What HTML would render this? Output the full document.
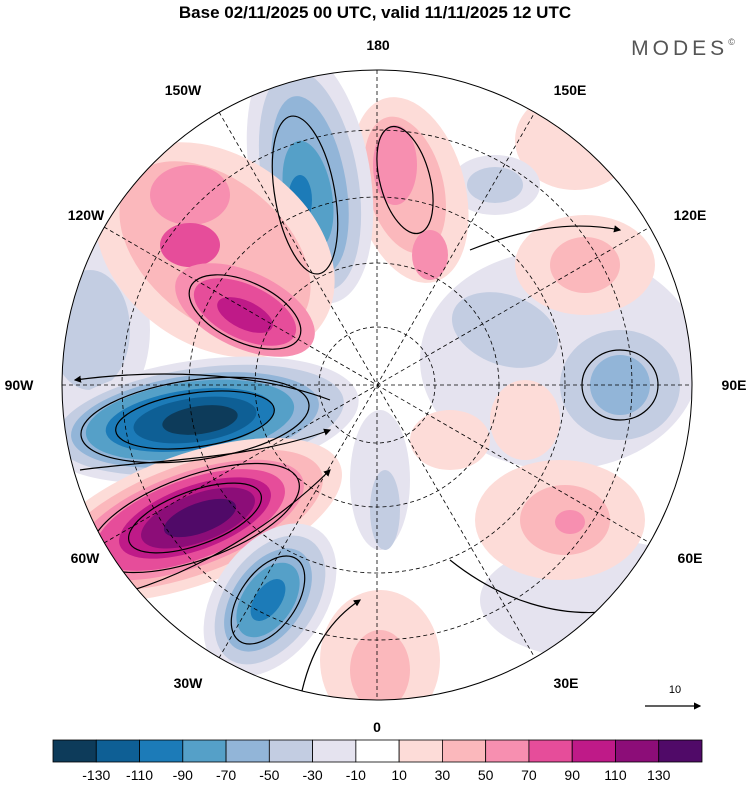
<!DOCTYPE html>
<html><head><meta charset="utf-8"><style>
body{margin:0;background:#fff;width:750px;height:783px;overflow:hidden;font-family:"Liberation Sans",sans-serif}
</style></head><body>
<svg width="750" height="783" viewBox="0 0 750 783">
<defs>
<clipPath id="disk"><circle cx="377" cy="385" r="315"/></clipPath>
<marker id="ah" markerWidth="6" markerHeight="6" refX="5" refY="3" orient="auto"><path d="M0,0L6,3L0,6z" fill="#000"/></marker>
</defs>
<text x="375" y="18" text-anchor="middle" font-size="17" font-weight="bold">Base 02/11/2025 00 UTC, valid 11/11/2025 12 UTC</text>
<text x="685" y="55" text-anchor="middle" font-size="21" fill="#555" letter-spacing="4">MODES<tspan font-size="9" dy="-10">©</tspan></text>
<g clip-path="url(#disk)">
<rect x="60" y="68" width="640" height="640" fill="#fff"/>
<ellipse cx="560" cy="360" rx="140" ry="110" fill="#e5e3ef"/>
<ellipse cx="600" cy="600" rx="120" ry="60" fill="#e5e3ef"/>
<ellipse cx="90" cy="330" rx="60" ry="90" fill="#e5e3ef"/>
<ellipse cx="90" cy="330" rx="40" ry="60" fill="#c3cde2"/>
<ellipse cx="585" cy="265" rx="70" ry="50" fill="#fddcd8"/>
<ellipse cx="585" cy="265" rx="35" ry="28" fill="#fbb8bc"/>
<ellipse cx="560" cy="520" rx="85" ry="60" fill="#fddcd8"/>
<ellipse cx="565" cy="520" rx="45" ry="35" fill="#fbb8bc"/>
<ellipse cx="570" cy="522" rx="15" ry="12" fill="#f78fb0"/>
<ellipse cx="525" cy="420" rx="35" ry="40" fill="#fddcd8"/>
<ellipse cx="450" cy="440" rx="40" ry="30" fill="#fddcd8"/>
<ellipse cx="380" cy="660" rx="60" ry="70" fill="#fddcd8"/>
<ellipse cx="380" cy="670" rx="30" ry="40" fill="#fbb8bc"/>
<ellipse cx="575" cy="140" rx="60" ry="50" fill="#fddcd8"/>
<ellipse cx="620" cy="385" rx="60" ry="55" fill="#c3cde2"/>
<ellipse cx="620" cy="385" rx="30" ry="30" fill="#92b5d8"/>
<ellipse cx="505" cy="330" rx="55" ry="35" fill="#c3cde2" transform="rotate(20 505 330)"/>
<ellipse cx="495" cy="185" rx="45" ry="30" fill="#e5e3ef"/>
<ellipse cx="495" cy="185" rx="28" ry="18" fill="#c3cde2"/>
<ellipse cx="380" cy="480" rx="30" ry="70" fill="#e5e3ef"/>
<ellipse cx="385" cy="510" rx="15" ry="40" fill="#c3cde2"/>
<ellipse cx="410" cy="190" rx="55" ry="95" fill="#fddcd8" transform="rotate(-15 410 190)"/>
<ellipse cx="405" cy="185" rx="38" ry="70" fill="#fbb8bc" transform="rotate(-15 405 185)"/>
<ellipse cx="395" cy="165" rx="22" ry="40" fill="#f78fb0"/>
<ellipse cx="430" cy="255" rx="18" ry="25" fill="#f78fb0"/>
<ellipse cx="310" cy="175" rx="60" ry="130" fill="#e5e3ef" transform="rotate(-10 310 175)"/>
<ellipse cx="310" cy="180" rx="48" ry="112" fill="#c3cde2" transform="rotate(-10 310 180)"/>
<ellipse cx="310" cy="185" rx="36" ry="90" fill="#92b5d8" transform="rotate(-10 310 185)"/>
<ellipse cx="308" cy="195" rx="24" ry="55" fill="#55a0c8" transform="rotate(-10 308 195)"/>
<ellipse cx="300" cy="200" rx="12" ry="25" fill="#1c7bb8"/>
<ellipse cx="215" cy="250" rx="130" ry="95" fill="#fddcd8" transform="rotate(35 215 250)"/>
<ellipse cx="215" cy="250" rx="110" ry="70" fill="#fbb8bc" transform="rotate(40 215 250)"/>
<ellipse cx="190" cy="195" rx="40" ry="30" fill="#f78fb0"/>
<ellipse cx="190" cy="245" rx="30" ry="22" fill="#e64d9a"/>
<ellipse cx="245" cy="310" rx="75" ry="38" fill="#f78fb0" transform="rotate(25 245 310)"/>
<ellipse cx="245" cy="312" rx="55" ry="27" fill="#e64d9a" transform="rotate(25 245 312)"/>
<ellipse cx="245" cy="315" rx="30" ry="14" fill="#bf1a88" transform="rotate(25 245 315)"/>
<ellipse cx="200" cy="420" rx="160" ry="60" fill="#e5e3ef" transform="rotate(-8 200 420)"/>
<ellipse cx="200" cy="420" rx="145" ry="52" fill="#c3cde2" transform="rotate(-8 200 420)"/>
<ellipse cx="195" cy="420" rx="125" ry="45" fill="#92b5d8" transform="rotate(-8 195 420)"/>
<ellipse cx="190" cy="420" rx="105" ry="38" fill="#55a0c8" transform="rotate(-8 190 420)"/>
<ellipse cx="190" cy="420" rx="85" ry="30" fill="#1c7bb8" transform="rotate(-8 190 420)"/>
<ellipse cx="195" cy="420" rx="62" ry="22" fill="#0e5f95" transform="rotate(-8 195 420)"/>
<ellipse cx="200" cy="420" rx="38" ry="14" fill="#0d3b5a" transform="rotate(-8 200 420)"/>
<ellipse cx="190" cy="520" rx="160" ry="65" fill="#fddcd8" transform="rotate(-20 190 520)"/>
<ellipse cx="190" cy="520" rx="140" ry="55" fill="#fbb8bc" transform="rotate(-20 190 520)"/>
<ellipse cx="190" cy="520" rx="120" ry="47" fill="#f78fb0" transform="rotate(-20 190 520)"/>
<ellipse cx="190" cy="520" rx="100" ry="40" fill="#e64d9a" transform="rotate(-20 190 520)"/>
<ellipse cx="195" cy="518" rx="80" ry="32" fill="#bf1a88" transform="rotate(-20 195 518)"/>
<ellipse cx="198" cy="518" rx="60" ry="24" fill="#8c0d78" transform="rotate(-20 198 518)"/>
<ellipse cx="200" cy="518" rx="38" ry="15" fill="#500a68" transform="rotate(-20 200 518)"/>
<ellipse cx="270" cy="600" rx="55" ry="85" fill="#e5e3ef" transform="rotate(35 270 600)"/>
<ellipse cx="270" cy="600" rx="45" ry="72" fill="#c3cde2" transform="rotate(35 270 600)"/>
<ellipse cx="268" cy="600" rx="35" ry="58" fill="#92b5d8" transform="rotate(35 268 600)"/>
<ellipse cx="268" cy="600" rx="25" ry="42" fill="#55a0c8" transform="rotate(35 268 600)"/>
<ellipse cx="268" cy="600" rx="13" ry="24" fill="#1c7bb8" transform="rotate(35 268 600)"/>
<g fill="none" stroke="#000" stroke-width="1.2">
<ellipse cx="195" cy="420" rx="115" ry="40" transform="rotate(-8 195 420)"/>
<ellipse cx="195" cy="420" rx="80" ry="27" transform="rotate(-8 195 420)"/>
<ellipse cx="195" cy="518" rx="110" ry="42" transform="rotate(-20 195 518)"/>
<ellipse cx="195" cy="518" rx="70" ry="27" transform="rotate(-20 195 518)"/>
<ellipse cx="268" cy="600" rx="28" ry="50" transform="rotate(35 268 600)"/>
<ellipse cx="245" cy="312" rx="60" ry="30" transform="rotate(25 245 312)"/>
<ellipse cx="305" cy="195" rx="30" ry="80" transform="rotate(-10 305 195)"/>
<ellipse cx="620" cy="385" rx="38" ry="35"/>
<ellipse cx="405" cy="180" rx="25" ry="55" transform="rotate(-15 405 180)"/>
<path d="M80,470 C150,460 250,460 330,430" marker-end="url(#ah)"/>
<path d="M330,400 C250,370 150,370 75,380" marker-end="url(#ah)"/>
<path d="M90,600 C160,590 260,540 330,470" marker-end="url(#ah)"/>
<path d="M450,560 C500,600 560,620 620,610" marker-end="url(#ah)"/>
<path d="M470,250 C520,230 570,220 620,230" marker-end="url(#ah)"/>
<path d="M300,700 C310,650 330,620 360,600" marker-end="url(#ah)"/>
</g>
<g fill="none" stroke="#000" stroke-width="0.8" stroke-dasharray="4,3">
<circle cx="377" cy="385" r="58"/><circle cx="377" cy="385" r="122"/><circle cx="377" cy="385" r="188"/><circle cx="377" cy="385" r="255"/>
<line x1="62" y1="385" x2="692" y2="385"/><line x1="377" y1="70" x2="377" y2="700"/>
<line x1="104" y1="227" x2="650" y2="543"/><line x1="104" y1="543" x2="650" y2="227"/>
<line x1="219" y1="112" x2="535" y2="658"/><line x1="219" y1="658" x2="535" y2="112"/>
</g>
</g>
<circle cx="377" cy="385" r="315" fill="none" stroke="#000" stroke-width="1"/>
<g font-size="14" font-weight="bold" text-anchor="middle">
<text x="378" y="50">180</text><text x="377" y="732">0</text>
<text x="19" y="390">90W</text><text x="734" y="390">90E</text>
<text x="183" y="95">150W</text><text x="570" y="95">150E</text>
<text x="86" y="220">120W</text><text x="690" y="220">120E</text>
<text x="85" y="563">60W</text><text x="690" y="563">60E</text>
<text x="188" y="688">30W</text><text x="566" y="688">30E</text>
</g>
<g>
<text x="675" y="693" font-size="11" text-anchor="middle">10</text>
<line x1="645" y1="706" x2="700" y2="706" stroke="#000" stroke-width="1.2" marker-end="url(#ah)"/>
</g>
<g id="cbar"></g>
</svg>
<script>
const binColors=["#0d3b5a","#0e5f95","#1c7bb8","#55a0c8","#92b5d8","#c3cde2","#e5e3ef","#ffffff","#fddcd8","#fbb8bc","#f78fb0","#e64d9a","#bf1a88","#8c0d78","#500a68"];
const tickLabels=["-130","-110","-90","-70","-50","-30","-10","10","30","50","70","90","110","130"];
const g=document.getElementById('cbar');const ns="http://www.w3.org/2000/svg";
const x0=53,x1=702,w=(x1-x0)/binColors.length;
binColors.forEach((c,i)=>{const r=document.createElementNS(ns,'rect');
r.setAttribute('x',x0+i*w);r.setAttribute('y',740);r.setAttribute('width',w);r.setAttribute('height',22);
r.setAttribute('fill',c);r.setAttribute('stroke','#000');r.setAttribute('stroke-width','0.8');


g.appendChild(r);});
tickLabels.forEach((t,i)=>{const tx=document.createElementNS(ns,'text');
tx.setAttribute('x',x0+(i+1)*w);tx.setAttribute('y',780);tx.setAttribute('text-anchor','middle');tx.setAttribute('font-size','14');
tx.textContent=t;


g.appendChild(tx);});
</script>
</body></html>
